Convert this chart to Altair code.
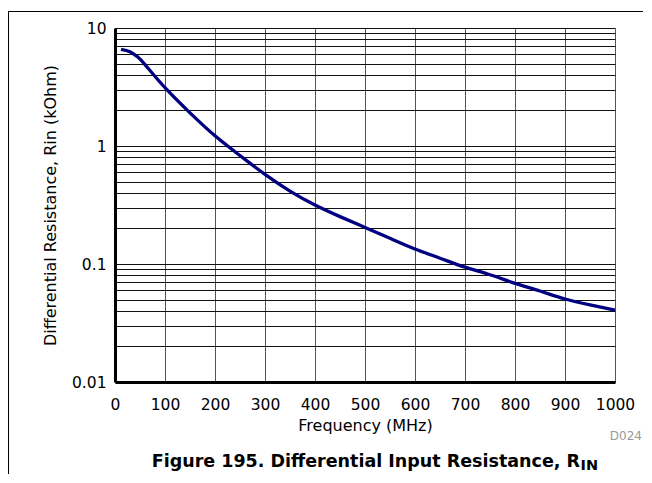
import altair as alt
import pandas as pd

freq_mhz = [12, 30, 45, 60, 100, 150, 200, 250, 300, 350, 400, 450, 500, 550, 600, 650, 700, 750, 800, 850, 900, 950, 1000]
rin_kohm = [6.6, 6.3, 5.7, 4.9, 3.12, 1.91, 1.22, 0.83, 0.575, 0.415, 0.316, 0.252, 0.204, 0.165, 0.134, 0.112, 0.094, 0.081, 0.0686, 0.059, 0.0505, 0.045, 0.0407]

x_ticks = [0, 100, 200, 300, 400, 500, 600, 700, 800, 900, 1000]
y_ticks = [0.01, 0.02, 0.03, 0.04, 0.05, 0.06, 0.07, 0.08, 0.09,
           0.1, 0.2, 0.3, 0.4, 0.5, 0.6, 0.7, 0.8, 0.9,
           1, 2, 3, 4, 5, 6, 7, 8, 9, 10]
y_label_values = ["0.01", "0.1", "1", "10"]

x_title = "Frequency (MHz)"
y_title = "Differential Resistance, Rin (kOhm)"
fig_title = "Figure 195. Differential Input Resistance, R"
fig_sub = "IN"
fig_code = "D024"

FONT = "DejaVu Sans"

df = pd.DataFrame({"f": freq_mhz, "r": rin_kohm})

label_expr = (
    "abs(datum.value - 0.01) < 1e-9 ? '" + y_label_values[0] + "' : "
    "abs(datum.value - 0.1) < 1e-9 ? '" + y_label_values[1] + "' : "
    "abs(datum.value - 1) < 1e-9 ? '" + y_label_values[2] + "' : "
    "abs(datum.value - 10) < 1e-9 ? '" + y_label_values[3] + "' : ''"
)

line = alt.Chart(df).mark_line(color="#000080", strokeWidth=3.3, interpolate="natural").encode(
    x=alt.X("f:Q", scale=alt.Scale(domain=[0, 1000], nice=False),
            axis=alt.Axis(values=x_ticks, format="d", title=x_title, grid=True, gridColor="#555555", gridWidth=1,
                          ticks=False, labelPadding=15, titlePadding=5, domainWidth=3, domainColor="black",
                          labelOverlap=False, labelFlush=False,
                          labelFontSize=15.5, titleFontSize=16, labelFont=FONT, titleFont=FONT,
                          labelColor="black", titleColor="black", titleFontWeight="normal")),
    y=alt.Y("r:Q", scale=alt.Scale(type="log", domain=[0.01, 10], nice=False),
            axis=alt.Axis(values=y_ticks, title=y_title, grid=True, gridColor="#111111", gridWidth=1,
                          ticks=False, labelPadding=9, titlePadding=13, domainWidth=3, domainColor="black",
                          labelExpr=label_expr, labelOverlap=False, labelFlush=False,
                          labelFontSize=15.5, titleFontSize=16, labelFont=FONT, titleFont=FONT,
                          labelColor="black", titleColor="black", titleFontWeight="normal")),
)

one = pd.DataFrame({"k": [0]})

title_main = alt.Chart(one).mark_text(text=fig_title, font=FONT, fontSize=17.5, fontWeight="bold",
                                      align="right", baseline="alphabetic", color="black").encode(
    x=alt.value(465), y=alt.value(438.7))
title_sub = alt.Chart(one).mark_text(text=fig_sub, font=FONT, fontSize=14.5, fontWeight="bold",
                                     align="left", baseline="alphabetic", color="black").encode(
    x=alt.value(465.5), y=alt.value(442))
code = alt.Chart(one).mark_text(text=fig_code, font=FONT, fontSize=12, align="right",
                                baseline="alphabetic", color="#999999").encode(
    x=alt.value(527), y=alt.value(412))
top_rule = alt.Chart(one).mark_rule(color="black", strokeWidth=1).encode(
    x=alt.value(-107), x2=alt.value(540), y=alt.value(-16.5))
left_rule = alt.Chart(one).mark_rule(color="black", strokeWidth=1).encode(
    x=alt.value(-106.5), y=alt.value(-17), y2=alt.value(460))

chart = alt.layer(line, title_main, title_sub, code, top_rule, left_rule).properties(
    width=500, height=354,
    autosize=alt.AutoSizeParams(type="none"),
    padding={"left": 107, "top": 20, "right": 28, "bottom": 92},
).configure_view(stroke="black", strokeWidth=3).configure(background="white")

chart.save("out.html", embed_options={"renderer": "svg", "actions": False})
